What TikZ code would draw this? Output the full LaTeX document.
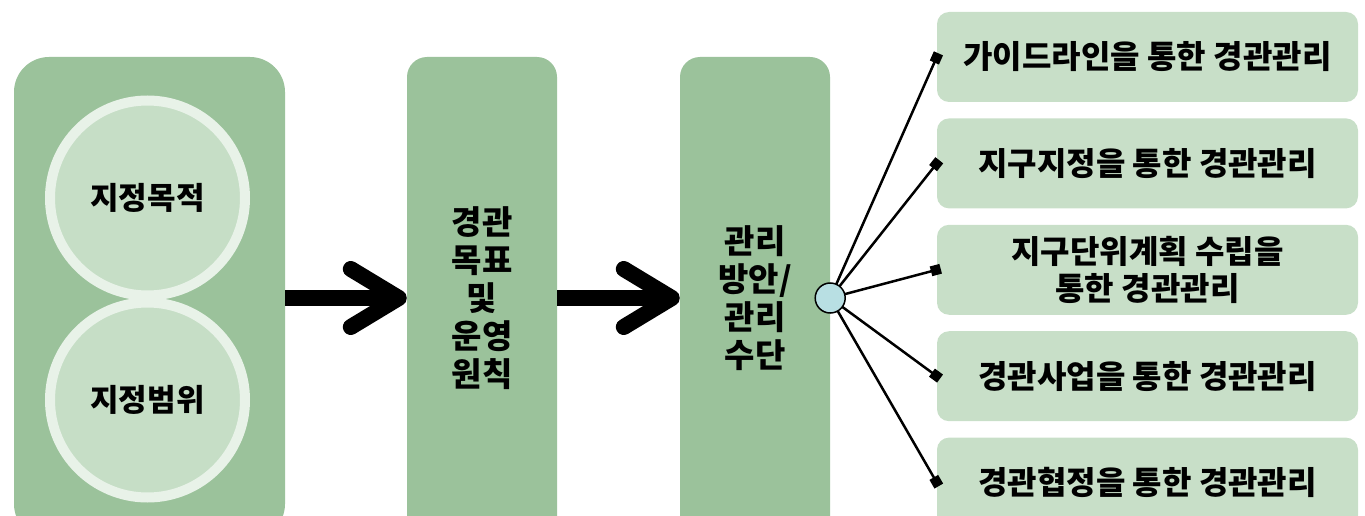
\documentclass[tikz,border=0pt]{standalone}
\usepackage{fontspec}
\setmainfont{Noto Sans CJK KR}
\usetikzlibrary{arrows.meta}
\usetikzlibrary{positioning}
\definecolor{boxgreen}{RGB}{155,194,155}
\definecolor{ringwhite}{RGB}{232,242,232}
\definecolor{circlegreen}{RGB}{198,222,198}
\definecolor{leafgreen}{RGB}{200,223,200}
\definecolor{hubblue}{RGB}{184,223,227}
\tikzset{
    column/.style={
           rectangle,
           fill=boxgreen,
           rounded corners=20pt,
           minimum width=150pt,
           minimum height=482pt,
           inner sep=0pt,
           align=center,
           font=\fontsize{33}{38}\selectfont\bfseries,
           },
}
\tikzset{
    ring/.style={
           circle,
           draw=ringwhite, line width=10pt,
           fill=circlegreen,
           minimum size=195pt,
           inner sep=0pt,
           font=\fontsize{31}{36}\selectfont\bfseries,
           },
}
\tikzset{
    leaf/.style={
           rectangle,
           fill=leafgreen,
           rounded corners=12pt,
           minimum width=421pt,
           minimum height=90pt,
           inner sep=0pt,
           align=center,
           font=\fontsize{32}{37}\selectfont\bfseries,
           },
}
\tikzset{
    bigarrow/.style={
           line width=16pt,
           -{Straight Barb[length=48pt,width=58pt,line width=16pt,round]},
           },
}
\tikzset{
    spoke/.style={
           line width=2.5pt,
           -{Square[length=10pt,width=10pt]},
           shorten >=-4pt,
           },
}

\begin{document}
\begin{tikzpicture}[x=1pt,y=-1pt]
\useasboundingbox (0,0) rectangle (1365,516);
\node[column,minimum width=271pt,rounded corners=35pt](frame) at (149.5,298){};
\node[ring](aim) at (147.5,198){지정목적};
\node[ring](range) at (147.5,400){지정범위};
\node[column](goal) at (482,298){경관\\목표\\및\\운영\\원칙};
\node[column](means) at (755,298){관리\\방안/\\관리\\수단};
\node[leaf](r1) at (1147.5,57){가이드라인을 통한 경관관리};
\node[leaf,below=16pt of r1](r2){지구지정을 통한 경관관리};
\node[leaf,below=16pt of r2](r3){지구단위계획 수립을\\통한 경관관리};
\node[leaf,below=16pt of r3](r4){경관사업을 통한 경관관리};
\node[leaf,below=16pt of r4](r5){경관협정을 통한 경관관리};
\draw[bigarrow] (frame.east) -- (goal.west);
\draw[bigarrow] (goal.east) -- (means.west);
\coordinate (hubc) at (means.east);
\foreach \r in {r1,r2,r3,r4,r5}
    \draw[spoke] (hubc) -- (\r.west);
\node[circle,draw,line width=1.5pt,fill=hubblue,minimum size=30pt](hub) at (hubc){};
\end{tikzpicture}
\end{document}
